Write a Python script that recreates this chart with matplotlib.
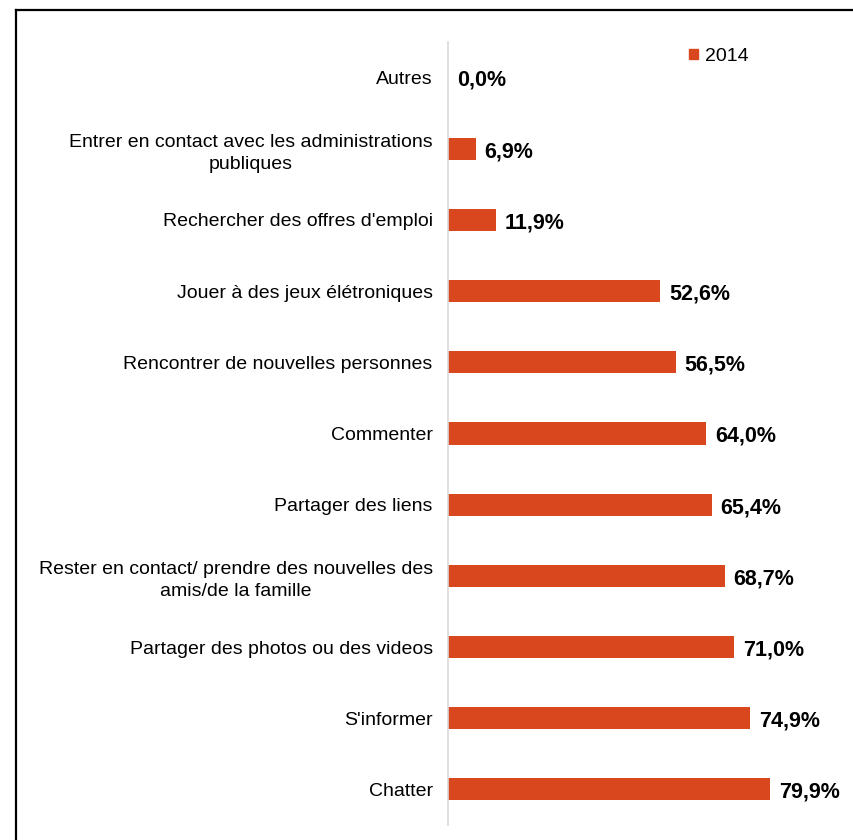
import matplotlib.pyplot as plt
from matplotlib.lines import Line2D
from matplotlib.patches import Patch

plt.rcParams['font.family'] = ['Liberation Sans', 'DejaVu Sans']

categories = ['Autres',
              'Entrer en contact avec les administrations\npubliques',
              "Rechercher des offres d'emploi",
              'Jouer à des jeux élétroniques',
              'Rencontrer de nouvelles personnes',
              'Commenter',
              'Partager des liens',
              'Rester en contact/ prendre des nouvelles des\namis/de la famille',
              'Partager des photos ou des videos',
              "S'informer",
              'Chatter']
values = [0.0, 6.9, 11.9, 52.6, 56.5, 64.0, 65.4, 68.7, 71.0, 74.9, 79.9]
series_name = '2014'
bar_color = '#D9471E'

fig = plt.figure(figsize=(8.54, 8.4), dpi=100)
ax = fig.add_axes([448/854, 15/840, 403/854, 783/840])

ypos = list(range(len(categories)))
ax.barh(ypos, values, height=0.31, color=bar_color, label=series_name)
for y, v in zip(ypos, values):
    ax.text(v + 2.2, y + 0.04, ('%.1f' % v).replace('.', ',') + '%', va='center', ha='left',
            fontsize=15.5, fontweight='bold', color='black')

ax.set_xlim(0, 100)
ax.set_ylim(len(categories) - 0.5, -0.5)
ax.set_yticks(ypos)
ax.set_yticklabels(categories, fontsize=14, multialignment='center', linespacing=1.4)
ax.tick_params(axis='y', length=0, pad=11)
ax.set_xticks([])
for s in ['top', 'right', 'bottom']:
    ax.spines[s].set_visible(False)
ax.spines['left'].set_color('#d9d9d9')
ax.spines['left'].set_linewidth(1.2)

leg = ax.legend(handles=[Patch(color=bar_color, label=series_name)], loc='upper left',
                bbox_to_anchor=(0.555, 1.015), frameon=False, fontsize=14,
                handlelength=0.45, handleheight=0.45, handletextpad=0.35)

# chart border (left and top visible)
fig.add_artist(Line2D([16/854, 16/854], [0, 1 - 10/840], color='black', lw=1.6,
                      transform=fig.transFigure))
fig.add_artist(Line2D([16/854, 1], [1 - 10/840, 1 - 10/840], color='black', lw=1.6,
                      transform=fig.transFigure))

fig.savefig('out.png', dpi=100)
